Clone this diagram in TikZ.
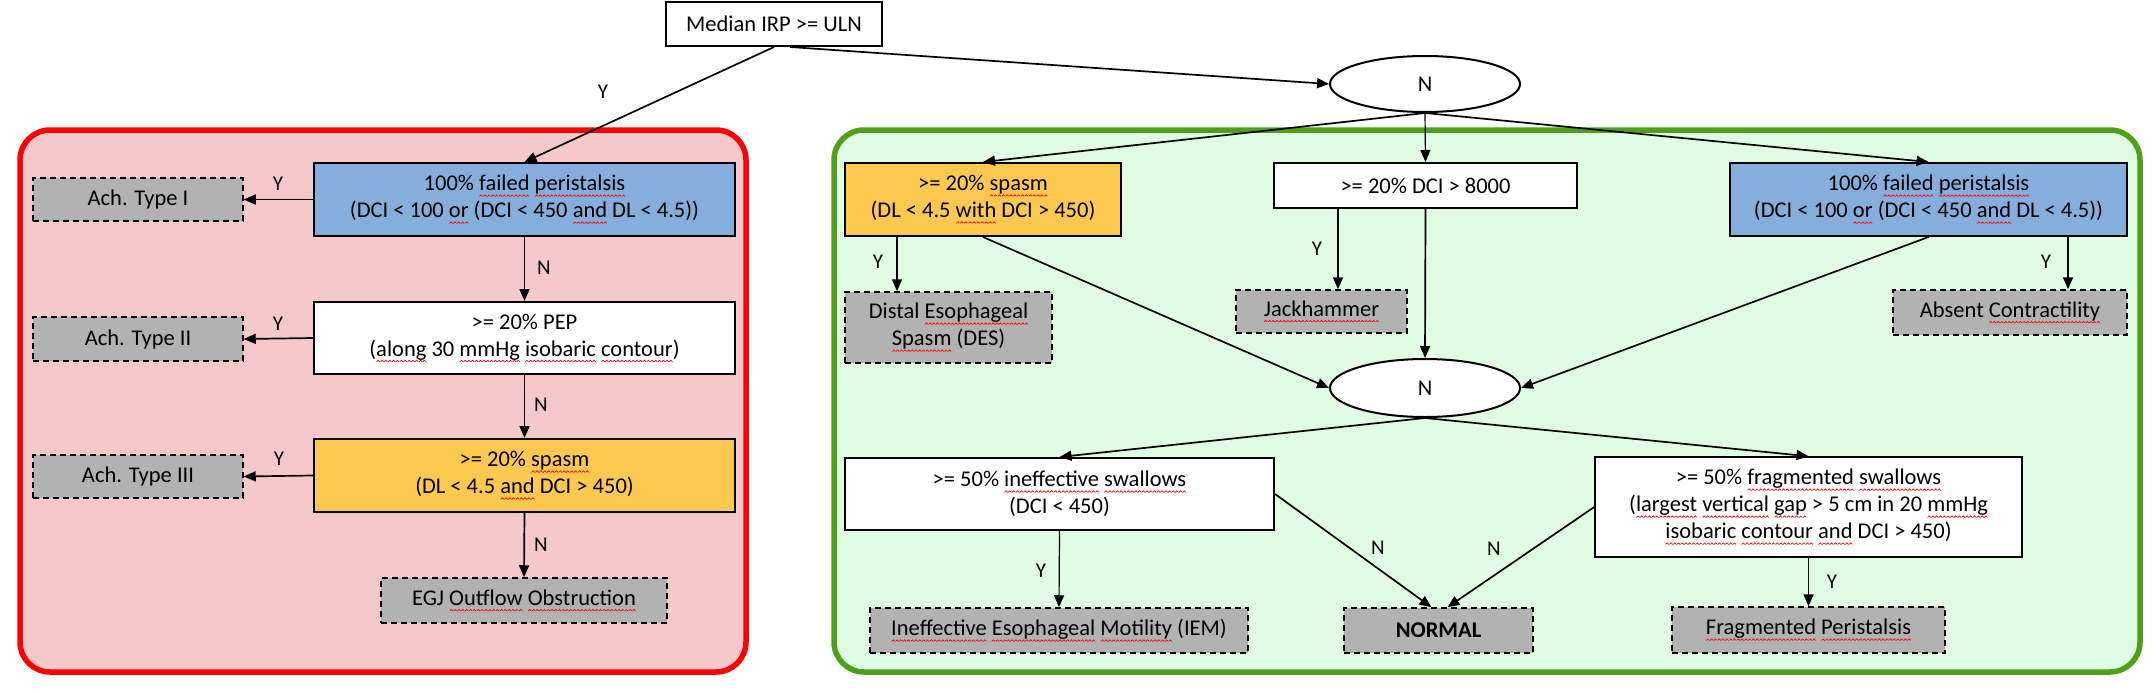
\documentclass[tikz,border=0pt]{standalone}
\usepackage{fontspec}
\setmainfont{Carlito}
\usetikzlibrary{arrows.meta,shapes.geometric}
\newcommand\wavepiece{\tikz[x=1pt,y=1pt,line width=0.7pt,baseline=0pt]\draw[red,line cap=round] (0,0)--(1.5,1.5)--(3,0);}
\newcommand\sq[1]{\setbox0\hbox{#1}\rlap{\lower5.5pt\hbox to\wd0{\xleaders\hbox{\wavepiece}\hfill}}\box0\relax}
\definecolor{pinkfill}{RGB}{245,200,202}
\definecolor{redline}{RGB}{255,0,0}
\definecolor{greenline}{RGB}{78,160,24}
\definecolor{greenfill}{RGB}{224,253,228}
\definecolor{bluefill}{RGB}{134,174,220}
\definecolor{orangefill}{RGB}{252,200,80}
\definecolor{grayfill}{RGB}{178,178,178}
\tikzset{
  txt/.style={font=\fontsize{22.5}{27}\selectfont},
  qbox/.style={txt, draw=black, line width=2pt, fill=white, inner sep=0pt, align=center},
  res/.style={txt, draw=black, line width=1.5pt, dash pattern=on 6pt off 4pt, fill=grayfill, inner sep=0pt, align=center},
  oval/.style={txt, ellipse, draw=black, line width=2pt, fill=white, inner sep=0pt},
  arr/.style={line width=1.7pt, -{Triangle[length=12pt,width=10pt]}},
  lbl/.style={font=\fontsize{21}{24}\selectfont, inner sep=0pt},
  frame/.style={rounded corners=30pt, line width=5.5pt}
}
\begin{document}
\begin{tikzpicture}[x=1pt,y=-1pt]
\useasboundingbox (0,0) rectangle (2154,693);
% frames
\draw[frame, draw=redline, fill=pinkfill] (20,130) rectangle (746,672);
\draw[frame, draw=greenline, fill=greenfill] (834,130) rectangle (2140,672);

% top
\node[qbox, minimum width=216pt, minimum height=44pt] (median) at (774,24) {Median IRP >= ULN};
\node[oval, minimum width=190pt, minimum height=56pt] (ell1) at (1425,84) {N};

% left column
\node[qbox, fill=bluefill, minimum width=421pt, minimum height=73pt] (blueL) at (524.5,199.5)
  {100\% \sq{failed} \sq{peristalsis}\\(DCI < 100 \sq{or} (DCI < 450 \sq{and} DL < 4.5))};
\node[res, minimum width=210pt, minimum height=43pt] (achI) at (138,199.5) {Ach. Type I};
\node[qbox, minimum width=421pt, minimum height=72pt] (pep) at (524.5,338)
  {>= 20\% PEP\\(\sq{along} 30 \sq{mmHg} \sq{isobaric} \sq{contour})};
\node[res, minimum width=210pt, minimum height=44pt] (achII) at (138,339) {Ach. Type II};
\node[qbox, fill=orangefill, minimum width=421pt, minimum height=73pt] (spasmL) at (524.5,475.5)
  {>= 20\% \sq{spasm}\\(DL < 4.5 \sq{and} DCI > 450)};
\node[res, minimum width=210pt, minimum height=43pt] (achIII) at (138,476.5) {Ach. Type III};
\node[res, minimum width=286pt, minimum height=45pt] (egj) at (524,600.5) {EGJ \sq{Outflow} \sq{Obstruction}};

% right part
\node[qbox, fill=orangefill, minimum width=276pt, minimum height=73pt] (spasmR) at (983,199.5)
  {>= 20\% \sq{spasm}\\(DL < 4.5 \sq{with} DCI > 450)};
\node[qbox, minimum width=303pt, minimum height=45pt] (dci) at (1425.5,185.5) {>= 20\% DCI > 8000};
\node[qbox, fill=bluefill, minimum width=397pt, minimum height=73pt] (blueR) at (1928.5,199.5)
  {100\% \sq{failed} \sq{peristalsis}\\(DCI < 100 \sq{or} (DCI < 450 \sq{and} DL < 4.5))};
\node[res, minimum width=207pt, minimum height=71pt] (des) at (948.5,327.5)
  {Distal \sq{Esophageal}\\\sq{Spasm} (DES)};
\node[res, minimum width=171pt, minimum height=43pt] (jack) at (1321.5,311.5) {\sq{Jackhammer}};
\node[res, minimum width=234pt, minimum height=45pt] (absent) at (2010,312.5) {Absent \sq{Contractility}};
\node[oval, minimum width=190pt, minimum height=58pt] (ell2) at (1425,388) {N};
\node[qbox, minimum width=429pt, minimum height=72pt] (ineff) at (1059.5,494)
  {>= 50\% \sq{ineffective} \sq{swallows}\\(DCI < 450)};
\node[res, minimum width=378pt, minimum height=45pt] (iem) at (1059,630.5)
  {\sq{Ineffective} \sq{Esophageal} \sq{Motility} (IEM)};
\node[res, minimum width=189pt, minimum height=45pt, font=\fontsize{22.5}{27}\selectfont\bfseries] (normal) at (1438.5,630.5) {NORMAL};
\node[qbox, line width=1.5pt, minimum width=427pt, minimum height=100pt] (frag) at (1808.5,507)
  {>= 50\% \sq{fragmented} \sq{swallows}\\(\sq{largest} \sq{vertical} \sq{gap} > 5 cm in 20 \sq{mmHg}\\\sq{isobaric} \sq{contour} \sq{and} DCI > 450)};
\node[res, minimum width=273pt, minimum height=46pt] (fragp) at (1808.5,630) {\sq{Fragmented} \sq{Peristalsis}};

% helper coordinates
\coordinate (xdes) at (897,0);
\coordinate (xjack) at (1338,0);
\coordinate (xabs) at (2068,0);

% connectors
\draw[arr] (median.south) -- (blueL.north);
\node[lbl] (y0) at (603,92) {Y};
\draw[arr] ([xshift=16pt]median.south) -- (ell1.west);

\draw[arr] (blueL.west) -- (achI.east);
\node[lbl] (y1) at (278,184) {Y};
\draw[arr] (blueL.south) -- (pep.north);
\node[lbl] (n1) at (544,268) {N};
\draw[arr] (pep.west) -- (achII.east);
\node[lbl] (y2) at (278,324) {Y};
\draw[arr] (pep.south) -- (spasmL.north);
\node[lbl] (n2) at (541,405) {N};
\draw[arr] (spasmL.west) -- (achIII.east);
\node[lbl] (y3) at (279,459) {Y};
\draw[arr] (spasmL.south) -- (egj.north);
\node[lbl] (n3) at (541,545) {N};

\draw[arr] (ell1.south) -- (spasmR.north);
\draw[arr, line width=1.2pt] (ell1.south) -- (dci.north);
\draw[arr] (ell1.south) -- (blueR.north);

\draw[arr] (spasmR.south -| xdes) -- (des.north -| xdes);
\node[lbl] (y4) at (878,262) {Y};
\draw[arr] (dci.south -| xjack) -- (jack.north -| xjack);
\node[lbl] (y5) at (1317,249) {Y};
\draw[arr] (blueR.south -| xabs) -- (absent.north -| xabs);
\node[lbl] (y6) at (2046,262) {Y};

\draw[arr] (spasmR.south) -- (ell2.west);
\draw[arr] (dci.south) -- (ell2.north);
\draw[arr] (blueR.south) -- (ell2.east);

\draw[arr] (ell2.south) -- (ineff.north);
\draw[arr] (ell2.south) -- (frag.north);

\draw[arr, line width=1.2pt] (ineff.south) -- (iem.north);
\node[lbl] (y7) at (1041,571) {Y};
\draw[arr] (ineff.east) -- ([xshift=-7pt]normal.north);
\node[lbl] (n4) at (1378,548) {N};
\draw[arr] (frag.west) -- ([xshift=9pt]normal.north);
\node[lbl] (n5) at (1494,549) {N};
\draw[arr] (frag.south) -- (fragp.north);
\node[lbl] (y8) at (1832,582) {Y};
\end{tikzpicture}
\end{document}
